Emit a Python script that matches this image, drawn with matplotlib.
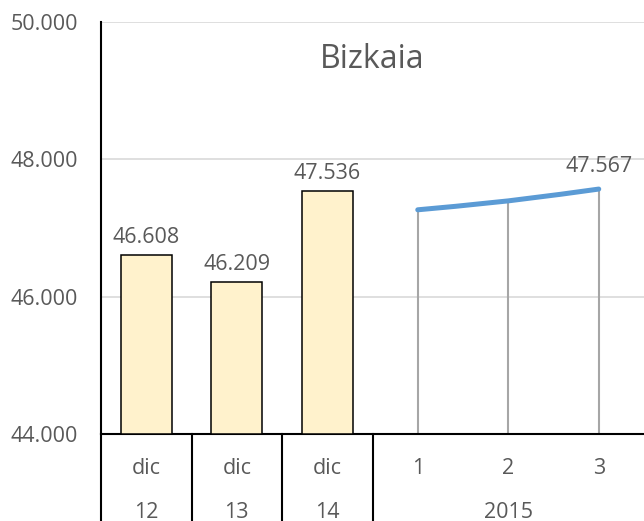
import matplotlib
matplotlib.use("Agg")
import matplotlib.pyplot as plt
import numpy as np
from matplotlib.path import Path
from matplotlib.patches import PathPatch

plt.rcParams["font.family"] = ["Open Sans", "DejaVu Sans"]

# data
bar_labels = ["dic", "dic", "dic"]
bar_years = ["12", "13", "14"]
bar_values = [46608, 46209, 47536]
month_labels = ["1", "2", "3"]
month_year = "2015"
month_values = [47265, 47395, 47567]
title = "Bizkaia"
y_ticks = [44000, 46000, 48000, 50000]

TXT = "#595959"
FS = 15.5


def fmt(v):
    return f"{v:,.0f}".replace(",", ".")


fig = plt.figure(figsize=(6.44, 5.21), dpi=100)
ax = fig.add_axes([101 / 644, 87 / 521, 1 - 101 / 644, (434 - 22) / 521])

n_bars = len(bar_values)
xb = np.arange(n_bars)
xl = np.arange(n_bars, n_bars + len(month_values))

ax.bar(xb, np.array(bar_values) - y_ticks[0], bottom=y_ticks[0], width=0.56,
       color="#fff2cc", edgecolor="black", linewidth=1.1, zorder=3)
for x, v in zip(xb, bar_values):
    ax.annotate(fmt(v), (x, v), xytext=(0, 5), textcoords="offset points",
                ha="center", va="bottom", fontsize=FS, color=TXT)

# drop lines
ax.vlines(xl, y_ticks[0], month_values, color="#a6a6a6", linewidth=1.5, zorder=2)

# smoothed line (bezier through the points)
pts = np.column_stack([xl, month_values]).astype(float)
verts = [tuple(pts[0])]
codes = [Path.MOVETO]
for i in range(len(pts) - 1):
    p0 = pts[i - 1] if i > 0 else pts[i]
    p3 = pts[i + 2] if i + 2 < len(pts) else pts[i + 1]
    c1 = pts[i] + (pts[i + 1] - p0) / 6
    c2 = pts[i + 1] - (p3 - pts[i]) / 6
    verts += [tuple(c1), tuple(c2), tuple(pts[i + 1])]
    codes += [Path.CURVE4] * 3
ax.add_patch(PathPatch(Path(verts, codes), fill=False, edgecolor="#5b9bd5",
                       linewidth=3.6, capstyle="round", zorder=4))
ax.annotate(fmt(month_values[-1]), (xl[-1], month_values[-1]), xytext=(0, 8.5),
            textcoords="offset points", ha="center", va="bottom", fontsize=FS, color=TXT)

ax.set_xlim(-0.5, n_bars + len(month_values) - 0.5)
ax.set_ylim(y_ticks[0], y_ticks[-1])
ax.set_yticks(y_ticks)
ax.set_yticklabels([fmt(v) for v in y_ticks], fontsize=FS, color=TXT)
ax.tick_params(axis="y", length=0, pad=16.5)
ax.set_xticks([])
ax.grid(axis="y", color="#d9d9d9", linewidth=1.2, zorder=0)
ax.set_axisbelow(True)
for s in ["top", "right"]:
    ax.spines[s].set_visible(False)
ax.spines["left"].set_linewidth(1.5)
ax.spines["bottom"].set_linewidth(1.5)

ax.text(0.5, 0.91, title, transform=ax.transAxes, ha="center", va="center",
        fontsize=23, color=TXT)

# two-level category axis
tr = ax.get_xaxis_transform()
lvl1 = -34 / 412
lvl2 = -78 / 412
for x, lab, yr in zip(xb, bar_labels, bar_years):
    ax.text(x, lvl1, lab, transform=tr, ha="center", va="center", fontsize=FS, color=TXT)
    ax.text(x, lvl2, yr, transform=tr, ha="center", va="center", fontsize=FS, color=TXT)
for x, lab in zip(xl, month_labels):
    ax.text(x, lvl1, lab, transform=tr, ha="center", va="center", fontsize=FS, color=TXT)
ax.text(xl.mean(), lvl2, month_year, transform=tr, ha="center", va="center",
        fontsize=FS, color=TXT)

for xs in [-0.5] + list(xb + 0.5):
    ax.plot([xs, xs], [0, -87 / 412], transform=tr, color="black",
            linewidth=1.5, clip_on=False)

fig.savefig("out.png", dpi=100)
